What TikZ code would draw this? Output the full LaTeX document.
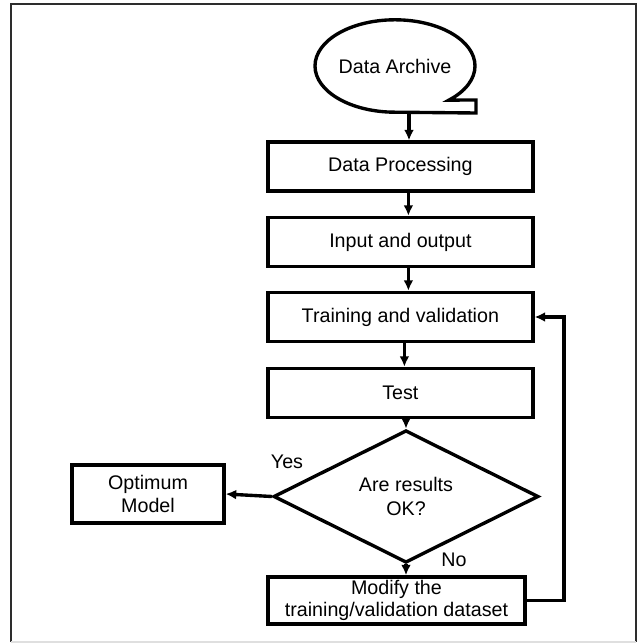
\documentclass[tikz,border=0pt]{standalone}
\usepackage{fontspec}
\setmainfont{Liberation Sans}
\usepackage{xcolor}
\usetikzlibrary{positioning, arrows.meta, shapes.geometric}
\definecolor{framegray}{RGB}{45, 45, 45}

\tikzset{
  txt/.style={font=\fontsize{14pt}{17pt}\selectfont},
  box/.style={txt, draw, line width=2.4pt, minimum width=6.625cm, minimum height=1.225cm, align=center, inner sep=1pt},
  decision/.style={txt, draw, diamond, line width=2.4pt, minimum width=6.625cm, minimum height=2.575cm, inner sep=0pt, align=center},
  flow/.style={line width=2.4pt, -{Latex[length=7.5pt,width=7pt]}},
}

\begin{document}
\begin{tikzpicture}
\useasboundingbox (0,0) rectangle (15.925,16.075);
\draw[framegray, line width=1.9pt] (0.275,0.025) -- (0.275,15.975) -- (15.9,15.975) -- (15.9,0.025);
\draw[gray!25, line width=1pt] (0.275,0.025) -- (15.9,0.025);
% storage symbol
\draw[line width=2.4pt, line join=miter] (9.875,13.27) arc[start angle=270, end angle=-47.6, x radius=2cm, y radius=1.155cm]
  -- (11.9,13.575) -- (11.9,13.25) -- cycle;
\node[txt] (archive) at (9.875,14.425) {Data Archive};
\coordinate (tail) at (10.225,13.25);
\node[box] (proc) at (10.01,11.91) {Data Processing};
\node[box] (inout) at (10.01,10.025) {Input and output};
\node[box] (train) at (10.01,8.15) {Training and validation};
\node[box] (test) at (10.01,6.25) {Test};
\node[decision] (check) at (10.15,3.6625) {Are results\\OK?};
\node[box, minimum width=3.8cm, minimum height=1.45cm] (optimum) at (3.7,3.725) {Optimum\\Model};
\node[box, minimum width=6.425cm, minimum height=1.175cm] (modify) at (9.9125,1.0625) {\raisebox{-1pt}{Modify the}\\training/validation dataset};
\node[txt] (yes) at (7.175,4.525) {Yes};
\node[txt] (no) at (11.35,2.075) {No};
% connectors
\draw[flow] (tail) -- (tail |- proc.north);
\draw[flow] ([xshift=0.2cm]proc.south) -- ([xshift=0.2cm]inout.north);
\draw[flow] ([xshift=0.2cm]inout.south) -- ([xshift=0.2cm]train.north);
\draw[flow] ([xshift=0.1cm]train.south) -- ([xshift=0.1cm]test.north);
\draw[flow] (test.south -| check.north) -- (check.north);
\draw[flow] (check.south) -- (check.south |- modify.north);
\draw[flow] (check.west) -- (optimum.east);
\draw[flow] (modify.east) -- ++(0.93,0) |- (train.east);
\end{tikzpicture}
\end{document}
